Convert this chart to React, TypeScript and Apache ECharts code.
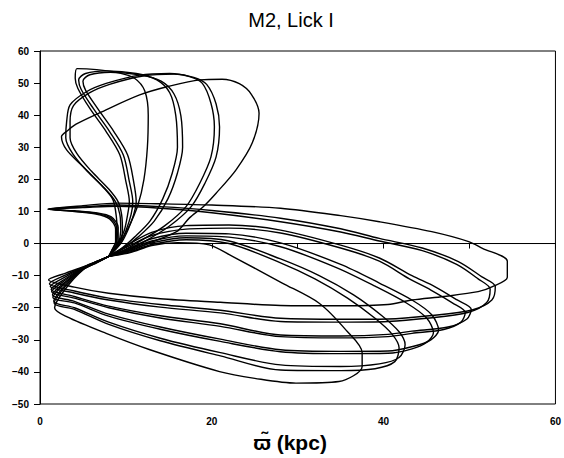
import React, { useEffect, useRef } from "react";
import * as echarts from "echarts";

const titleText = "M2, Lick I";
const xAxisName = "ϖ\u0303 (kpc)";
const xRange = [0, 60];
const yRange = [-50, 60];
const xLabelled = [0, 20, 40, 60];

const zeroLine = [[0, 0], [60, 0]];

const lobe0 = [[8,-4],[6.6,-5.6],[5,-7.3],[3,-9.2],[1,-11.3],[4,-13.6],[8,-15.5],[14,-17.2],[21,-18.3],[28,-19.3],[35,-19.4],[40.5,-19],[43.3,-17.6],[47,-16.5],[51,-15],[52.6,-13.5],[54.4,-10.5],[54.4,-5.5],[51.5,-1.5],[49.9,0.6],[45.6,3.7],[39.5,6.8],[35,8.7],[28,11],[20,12],[14,12.4],[9,12.6],[5,11.8],[0.9,10.7],[4,10.1],[6.5,9.4],[8.2,8],[8.9,5],[8.9,1],[8.4,-2],[8,-4]];
const lobe1a = [[8,-4],[6.6,-5.6],[5,-7.4],[3,-9.8],[1.1,-12.5],[4,-14.8],[8,-17],[14,-19],[21,-20.8],[28,-23.3],[35,-23.6],[40.5,-23.5],[45.3,-22.5],[50.3,-20.7],[52.6,-17.6],[53,-13.4],[51.4,-10.3],[48.7,-5.6],[44.5,-1.4],[39.5,1.6],[35,4.6],[28,7.9],[20,10.3],[14,11.5],[9,12],[5,11.4],[1,10.8],[4,10.2],[6.5,9.6],[8.3,8.3],[9.1,5],[9.1,1],[8.5,-2.2],[8,-4]];
const lobe1b = [[8,-4],[6.6,-5.6],[5,-7.5],[3,-10.3],[1.2,-13.3],[4,-15.4],[8,-17.6],[14,-19.8],[21,-21.6],[28,-24.3],[35,-24.5],[40.5,-24.3],[45,-23.3],[49.8,-21.5],[52,-18.4],[52.4,-14.2],[51,-11],[48.5,-6.5],[44.5,-2.2],[39.5,0.8],[35,3.6],[28,6.8],[20,9.6],[14,11],[9,11.6],[5,11.2],[1.05,10.75],[4,10],[6.5,9.2],[8.1,7.7],[8.8,4.5],[8.8,0.6],[8.3,-2.3],[8,-4]];
const lobe2a = [[8,-4],[6.6,-5.7],[5,-7.6],[3,-10.9],[1.3,-14.3],[4,-16.5],[8,-19.5],[14,-22.5],[21,-25],[28,-28.5],[35,-28.8],[40.5,-28.3],[43.3,-27.3],[47.5,-26],[49.7,-23.5],[50.2,-20.5],[48.5,-17.5],[46,-13.5],[43.3,-10],[39.5,-4.5],[35,-0.5],[28,4.2],[22,5.8],[17,5.6],[13,3.5],[10.5,0],[8,-4]];
const lobe2b = [[8,-4],[6.6,-5.7],[5,-7.7],[3,-11.3],[1.35,-15],[4,-17],[8,-20],[14,-23.2],[21,-25.8],[28,-29],[35,-29.4],[40.5,-29],[43.3,-28],[47,-26.8],[49,-24.5],[49.5,-21.5],[48,-18.5],[45.5,-14.5],[43,-11],[39.5,-5.5],[35,-1.4],[28,3.3],[22,4.8],[17,4.5],[13,2.5],[10.5,-0.6],[8,-4]];
const lobe3a = [[8,-4],[6.6,-5.8],[5,-7.8],[3,-11.8],[1.45,-16],[4,-18],[8,-22],[14,-26],[21,-29.8],[28,-33.1],[35,-33.6],[40.5,-33.5],[43.5,-32],[45.5,-30],[46.4,-27],[45.6,-22.2],[43.3,-17.6],[39.5,-12.3],[35,-6.5],[28,0.2],[22,3],[17,3.2],[13,1.5],[10.5,-1.3],[8,-4]];
const lobe3b = [[8,-4],[6.6,-5.8],[5,-7.9],[3,-12.2],[1.5,-16.8],[4,-18.5],[8,-22.6],[14,-26.7],[21,-30.5],[28,-33.7],[35,-34.3],[40.5,-34.2],[43.3,-32.8],[45,-30.8],[45.8,-27.8],[45,-23.2],[42.7,-18.6],[39,-13.3],[34.5,-7.5],[28,-1],[22,2],[17,2.4],[13,0.8],[10.5,-1.8],[8,-4]];
const lobe4a = [[8,-4],[6.6,-5.9],[5,-8],[3,-12.8],[1.6,-18],[4,-20],[8,-24.5],[14,-29.5],[21,-34],[28,-37.8],[35,-38.3],[39.5,-37.5],[41.8,-35.5],[42.5,-31.5],[41.8,-27.5],[39.8,-22.5],[36.5,-16],[32.5,-10],[28,-4.8],[22,0.8],[17,1.8],[13,0.2],[10.5,-2.3],[8,-4]];
const lobe4b = [[8,-4],[6.6,-5.9],[5,-8.1],[3,-13.2],[1.65,-18.6],[4,-20.5],[8,-25.2],[14,-30.3],[21,-35],[28,-39.4],[35,-39.6],[39,-39],[41.3,-36.8],[41.8,-32.5],[41,-28.3],[39,-23.3],[35.8,-17],[32,-11],[28,-6],[22,0],[17,1.2],[13,-0.3],[10.5,-2.6],[8,-4]];
const lobe5 = [[8,-4],[6.6,-6],[5,-8.2],[3,-14],[1.7,-20],[3.1,-22.8],[7.7,-28],[12.8,-33.1],[20.9,-39.9],[25,-42],[29.8,-43.5],[34.8,-43],[37.5,-38.3],[37.5,-34],[35.6,-26.9],[32.5,-18.6],[28.2,-12.3],[22.4,-4],[19.7,-0.4],[16,0.3],[13,-0.6],[10.5,-2.8],[8,-4]];

const arch1 = [[8,-4],[8.8,-1],[9,3],[8.9,8],[8.5,13.6],[7.3,17.7],[5,24],[3.1,29.2],[2.5,33.3],[3.3,35.4],[4.2,37.2],[7,40.8],[11.6,46.3],[15,49],[18.6,51],[21.2,51.2],[23.2,49.8],[24.6,46.5],[25.5,40.6],[24.7,31.3],[22.8,22.9],[20.5,15.7],[19,11.5],[17.4,8],[15.9,3.7],[12.5,0],[10,-2.5],[8,-4]];
const arch2a = [[8,-4],[9,-0.5],[9.4,4],[9.3,9],[8.8,13],[7.6,17],[5.5,22.5],[3.8,28],[3,33],[3.1,38],[3.5,43.2],[5.4,47.3],[7.7,49.9],[11.6,52.5],[15.1,53],[17.4,52],[18.9,49.9],[19.9,43.7],[20.3,36.4],[19.9,27],[18.6,18.8],[17,11.5],[14.5,5.5],[11.5,0.5],[9.5,-2.5],[8,-4]];
const arch2b = [[8,-4],[9.1,-0.3],[9.6,4],[9.5,9],[9.1,13],[8,17],[6,22.5],[4.3,28],[3.5,33],[3.5,38],[3.9,43],[5.8,47],[8.1,49.6],[12,52.2],[15.6,52.8],[17.9,51.8],[19.4,49.6],[20.5,43.5],[20.9,36.3],[20.5,27],[19.2,18.8],[17.6,11.5],[15,5.3],[12,0.4],[9.7,-2.5],[8,-4]];
const arch3a = [[8,-4],[9.3,0],[10,4],[10.6,9],[10.8,13],[10.4,19.3],[9.7,27.6],[8.1,34.9],[6.2,42.1],[4.8,48],[4.5,51],[5.3,53],[7.8,53.8],[11.2,53],[13.6,51],[15.1,47],[15.8,40],[16,30],[15.4,22],[14.3,14],[12.8,7],[11,2],[9.5,-1.5],[8,-4]];
const arch3b = [[8,-4],[9.4,0],[10.2,4],[10.9,9],[11.2,13],[10.9,19.3],[10.2,27.6],[8.6,34.9],[6.7,42.1],[5.3,47.8],[5,50.6],[5.8,52.6],[8.2,53.4],[11.6,52.6],[14.1,50.6],[15.6,46.6],[16.4,39.8],[16.6,30],[16,22],[14.9,14],[13.3,7],[11.4,2],[9.7,-1.5],[8,-4]];
const arch4 = [[8,-4],[9,-0.5],[9.8,4],[10.2,9],[10.4,13],[10,19.3],[9.3,27.6],[7.7,34.9],[5.8,42.1],[4.4,48.4],[4.1,51.5],[4.3,54.5],[6.6,54.2],[9,53.3],[11,51.5],[12.2,47.5],[12.6,40],[12.5,30],[12.1,20],[11.4,12],[10.3,5],[9.2,0],[8,-4]];

const orbitPieces = [lobe0, lobe1a, lobe1b, lobe2a, lobe2b, lobe3a, lobe3b, lobe4a, lobe4b, lobe5, arch1, arch2a, arch2b, arch3a, arch3b, arch4];

const FONT = "'Liberation Sans', Arial, Helvetica, sans-serif";

export default function App() {
  const ref = useRef<HTMLDivElement>(null);
  useEffect(() => {
    const chart = echarts.init(ref.current!, null, { renderer: "svg" });
    const lineSeries = orbitPieces.map((d) => ({
      type: "line",
      data: d,
      smooth: 0.3,
      symbol: "none",
      silent: true,
      lineStyle: { color: "#000", width: 1.4 },
    }));
    chart.setOption({
      animation: false,
      backgroundColor: "#fff",
      grid: { left: 40, right: 7, top: 51, bottom: 54, show: true, borderColor: "#000", borderWidth: 1 },
      xAxis: {
        type: "value",
        min: xRange[0],
        max: xRange[1],
        interval: 10,
        axisLine: { lineStyle: { color: "#000", width: 1 } },
        axisTick: { length: 5, lineStyle: { color: "#000", width: 1 } },
        axisLabel: {
          formatter: (v: number) => (xLabelled.includes(v) ? String(v) : ""),
          color: "#000",
          fontWeight: "bold",
          fontSize: 10,
          fontFamily: FONT,
          margin: 12,
        },
        splitLine: { show: false },
      },
      yAxis: {
        type: "value",
        min: yRange[0],
        max: yRange[1],
        interval: 10,
        axisLine: { lineStyle: { color: "#000", width: 1 } },
        axisTick: { length: 6, lineStyle: { color: "#000", width: 1 } },
        axisLabel: {
          formatter: (v: number) => (v < 0 ? "\u2212" + Math.abs(v) : String(v)),
          color: "#000",
          fontWeight: "bold",
          fontSize: 10,
          fontFamily: FONT,
          margin: 11,
        },
        splitLine: { show: false },
      },
      graphic: [
        {
          type: "text",
          x: 291,
          y: 20,
          style: { text: titleText, align: "center", verticalAlign: "middle", fontSize: 20, fontFamily: FONT, fill: "#000" },
        },
        {
          type: "text",
          x: 290,
          y: 442,
          style: { text: xAxisName, align: "center", verticalAlign: "middle", fontSize: 21, fontWeight: "bold", fontFamily: FONT, fill: "#000" },
        },
      ],
      series: [
        {
          type: "line",
          data: zeroLine,
          symbol: "none",
          silent: true,
          lineStyle: { color: "#000", width: 1 },
        },
        ...lineSeries,
      ],
    });
    return () => chart.dispose();
  }, []);
  return <div ref={ref} style={{ position: "fixed", left: 0, top: 0, width: 564, height: 458 }} />;
}
